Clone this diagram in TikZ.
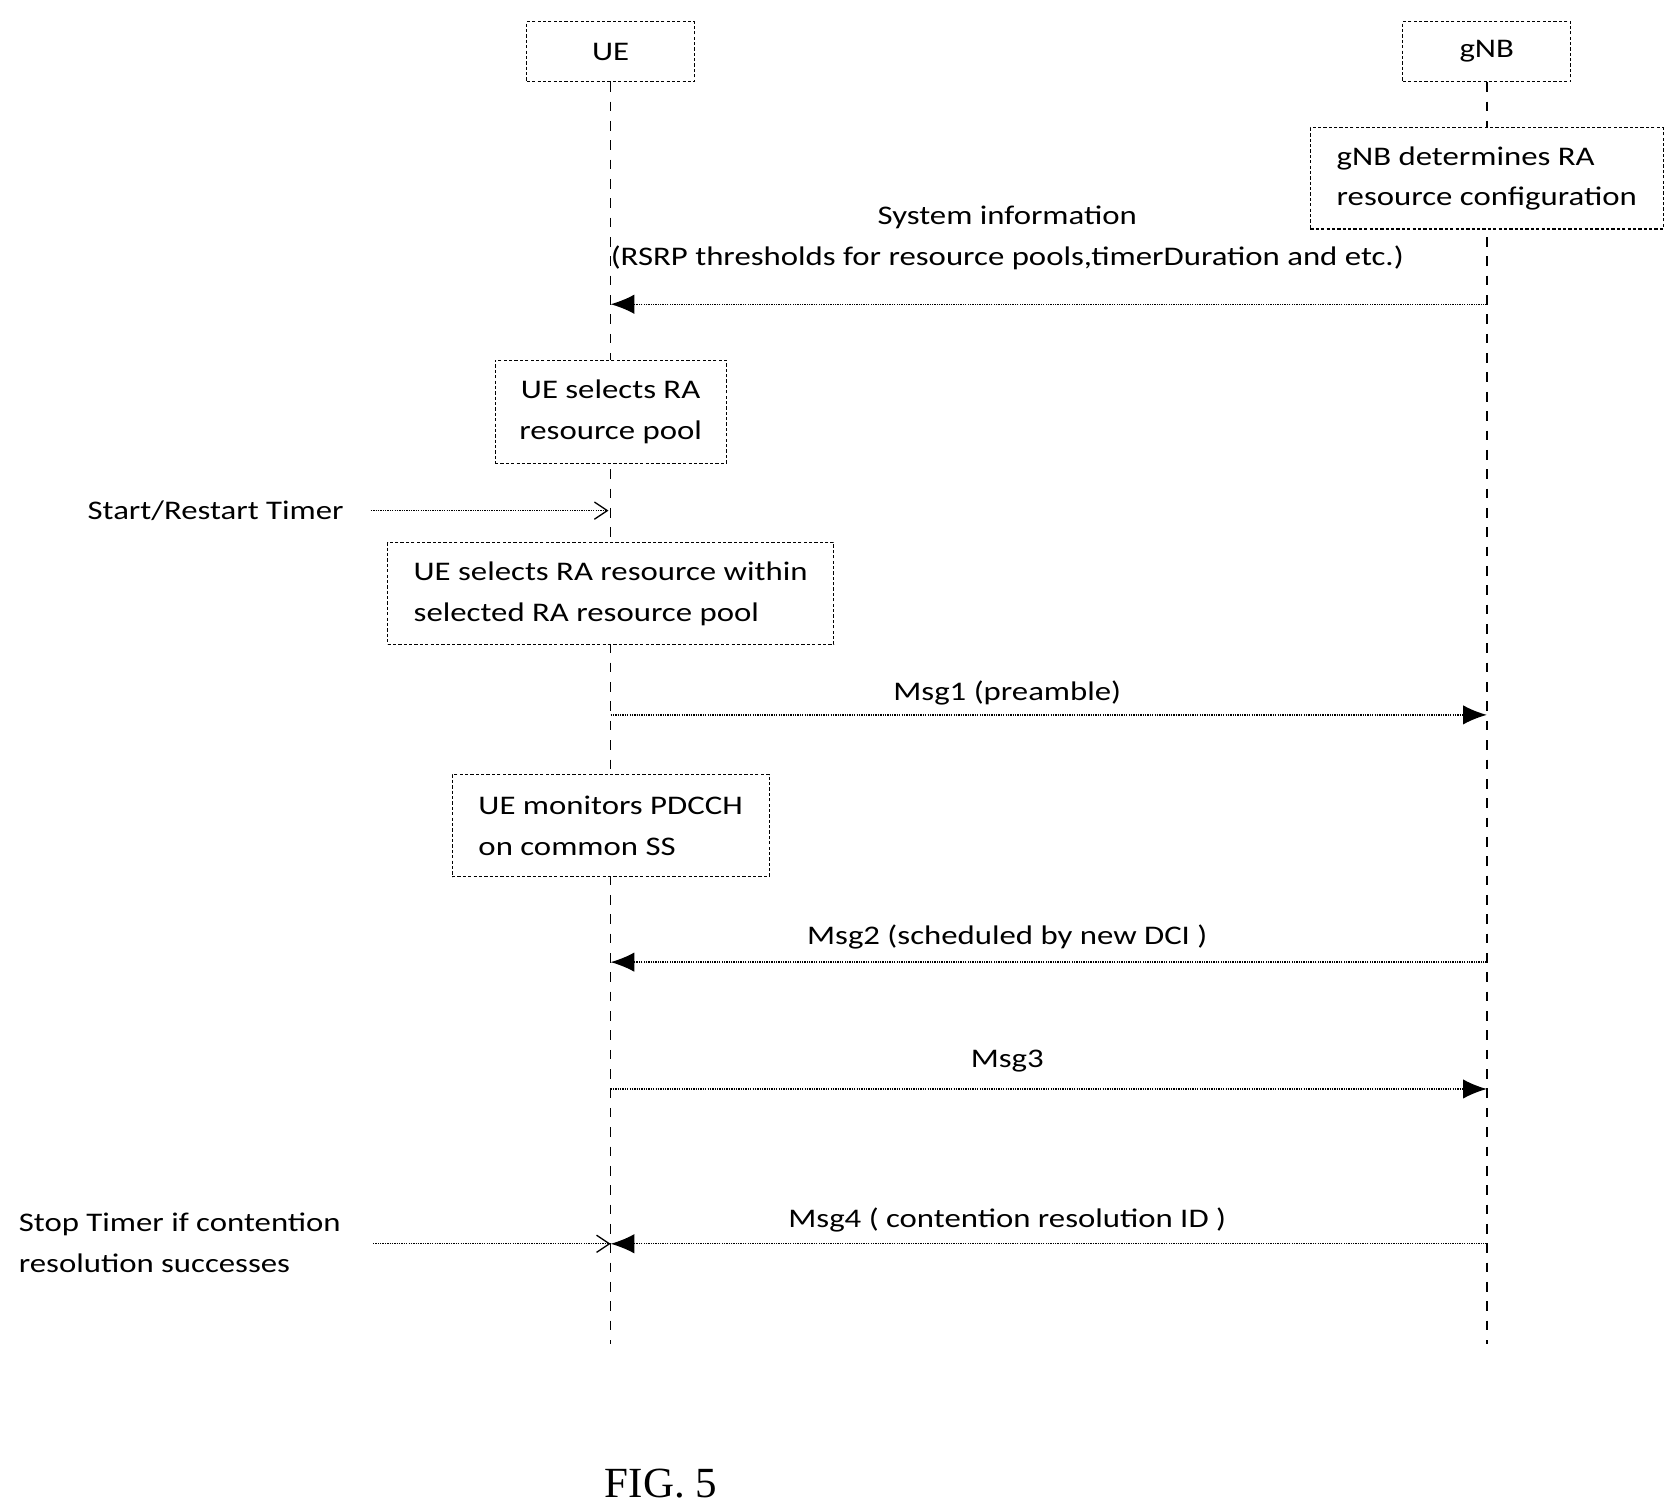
\documentclass[tikz,border=0pt]{standalone}
\usepackage{fontspec}
\setmainfont{Carlito}[FakeStretch=1.22]
\newfontfamily\figfont{Liberation Serif}
\usetikzlibrary{arrows.meta}
\begin{document}
\begin{tikzpicture}[x=1pt,y=-1pt,
 box/.style={draw,densely dashed,line width=1pt,inner sep=0pt,font=\fontsize{25}{38}\selectfont},
 life/.style={dash pattern=on 9pt off 9pt,line width=1.6pt},
 msg/.style={densely dotted,line width=1.2pt,-{Latex[length=22pt,width=18pt]}},
 tim/.style={densely dotted,line width=1.2pt,-{Straight Barb[length=12pt,width=16pt]}},
 lab/.style={font=\fontsize{25}{38}\selectfont,align=center}]
\useasboundingbox (0,0) rectangle (1560,1406);
\node[box,minimum width=156pt,minimum height=56pt] (ue) at (568,48) {UE};
\node[box,minimum width=156pt,minimum height=56pt] (gnb) at (1383,48) {gNB};
\coordinate (uee) at (568,1250); \coordinate (gnbe) at (1383,1250);
\draw[life] (ue.south) -- (uee);
\draw[life] (gnb.south) -- (gnbe);
\node[box,fill=white,minimum width=328pt,minimum height=94pt,align=left] (b0) at (1383,166) {gNB determines RA\\resource configuration};
\node[box,fill=white,minimum width=215pt,minimum height=96pt,align=center] (b1) at (568,383) {UE selects RA\\resource pool};
\node[box,fill=white,minimum width=415pt,minimum height=95pt,align=left] (b2) at (568,552) {UE selects RA resource within\\selected RA resource pool};
\node[box,fill=white,minimum width=295pt,minimum height=95pt,align=left] (b3) at (568,768) {UE monitors PDCCH\\on common SS};
% messages
\coordinate (g1) at (1383,283); \coordinate (u1) at (568,283);
\draw[msg] (g1) -- (u1);
\node[lab] (l1) at (937,221) {System information\\(RSRP thresholds for resource pools,timerDuration and etc.)};
\coordinate (u2) at (568,665); \coordinate (g2) at (1383,665);
\draw[msg] (u2) -- (g2);
\node[lab] (l2) at (937,645) {Msg1 (preamble)};
\coordinate (g3) at (1383,895); \coordinate (u3) at (568,895);
\draw[msg] (g3) -- (u3);
\node[lab] (l3) at (937,872) {Msg2 (scheduled by new DCI )};
\coordinate (u4) at (568,1013); \coordinate (g4) at (1383,1013);
\draw[msg] (u4) -- (g4);
\node[lab] (l4) at (937,987) {Msg3};
\coordinate (g5) at (1383,1157); \coordinate (u5) at (568,1157);
\draw[msg] (g5) -- (u5);
\node[lab] (l5) at (937,1135) {Msg4 ( contention resolution ID )};
% timers
\node[lab,anchor=west] (t1) at (78,475) {Start/Restart Timer};
\coordinate (t1s) at (345,475); \coordinate (t1e) at (566,475);
\draw[tim] (t1s) -- (t1e);
\node[lab,anchor=west,align=left] (t2) at (14,1156) {Stop Timer if contention\\resolution successes};
\coordinate (t2s) at (347,1157); \coordinate (t2e) at (568,1157);
\draw[tim] (t2s) -- (t2e);
\node[font=\figfont\fontsize{40}{48}\selectfont] (fig) at (615,1380) {FIG. 5};
\end{tikzpicture}
\end{document}
